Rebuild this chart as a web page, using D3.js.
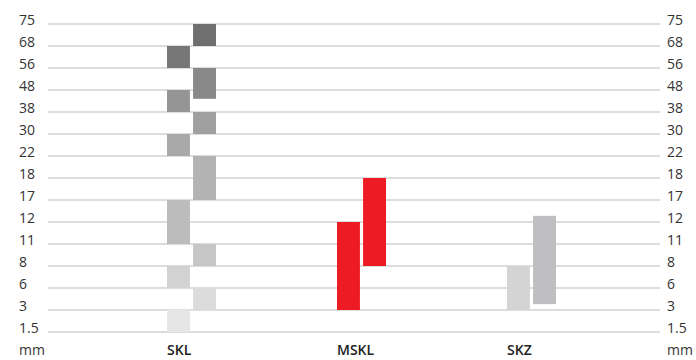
<!DOCTYPE html>
<html>
<head>
<meta charset="utf-8">
<script src="https://cdn.jsdelivr.net/npm/d3@7"></script>
<style>
body { margin: 0; background: #fff; }
text { font-family: "Open Sans", sans-serif; }
</style>
</head>
<body>
<div id="chart"></div>
<script>
const width = 696,
height = 360;

// tick labels (mm), evenly spaced on the axis
const ticks = [1.5, 3, 6, 8, 11, 12, 17, 18, 22, 30, 38, 48, 56, 68, 75];
const categories = ["SKL", "MSKL", "SKZ"];

// ranges [from, to] in mm, two columns per category
const sklLeft = [[1.5, 3], [6, 8], [11, 17], [22, 30], [38, 48], [56, 68]];
const sklRight = [[3, 6], [8, 11], [17, 22], [30, 38], [44, 56], [68, 75]];
const msklLeft = [[3, 12]];
const msklRight = [[8, 18]];
const skzLeft = [[3, 8]];
const skzRight = [[3.8, 13.4]];

const sklLeftColors = ["#e6e6e6", "#d2d2d2", "#bcbcbc", "#a9a9a9", "#959595", "#777777"];
const sklRightColors = ["#dcdcdc", "#c6c6c6", "#b3b3b3", "#a0a0a0", "#898989", "#6f6f6f"];

const columns = [
  {cat: "SKL", col: 0, ranges: sklLeft, colors: sklLeftColors},
  {cat: "SKL", col: 1, ranges: sklRight, colors: sklRightColors},
  {cat: "MSKL", col: 0, ranges: msklLeft, colors: ["#ed1c24"]},
  {cat: "MSKL", col: 1, ranges: msklRight, colors: ["#ed1c24"]},
  {cat: "SKZ", col: 0, ranges: skzLeft, colors: ["#d4d4d4"]},
  {cat: "SKZ", col: 1, ranges: skzRight, colors: ["#bfbfc1"]}
];

const svg = d3.select("#chart")
.append("svg")
.attr("width", width)
.attr("height", height);

// piecewise scale: each tick label sits on an evenly spaced line
const y = d3.scaleLinear()
.domain(ticks)
.range(ticks.map((d, i) => 332 - i * 22));

const x = d3.scalePoint(categories, [167, 507]);
const xSub = d3.scaleBand([0, 1], [0, 49]).paddingInner(0.12);

// grid lines
svg.append("g")
.selectAll("line")
.data(ticks)
.join("line")
.attr("x1", 48)
.attr("x2", 660)
.attr("y1", d => y(d))
.attr("y2", d => y(d))
.attr("stroke", "#d2d2d2")
.attr("stroke-width", 1.5);

// tick labels left and right
[19, 667].forEach(tx => {
  svg.append("g")
  .selectAll("text")
  .data(ticks)
  .join("text")
  .attr("x", tx)
  .attr("y", d => y(d) + 1)
  .attr("font-size", 14)
  .attr("fill", "#333")
  .text(d => d);

  svg.append("text")
  .attr("x", tx)
  .attr("y", 355)
  .attr("font-size", 14)
  .attr("fill", "#333")
  .text("mm");
});

// bars
const segs = columns.flatMap(c => c.ranges.map((r, i) => ({cat: c.cat, col: c.col, lo: r[0], hi: r[1], color: c.colors[i]})));

svg.append("g")
.selectAll("rect")
.data(segs)
.join("rect")
.attr("x", d => x(d.cat) + xSub(d.col))
.attr("y", d => y(d.hi))
.attr("width", xSub.bandwidth())
.attr("height", d => y(d.lo) - y(d.hi))
.attr("fill", d => d.color);

// category labels
svg.append("g")
.selectAll("text")
.data(categories)
.join("text")
.attr("x", d => x(d))
.attr("y", 355)
.attr("font-size", 14)
.attr("font-weight", 600)
.attr("fill", "#222")
.text(d => d);
</script>
</body>
</html>
